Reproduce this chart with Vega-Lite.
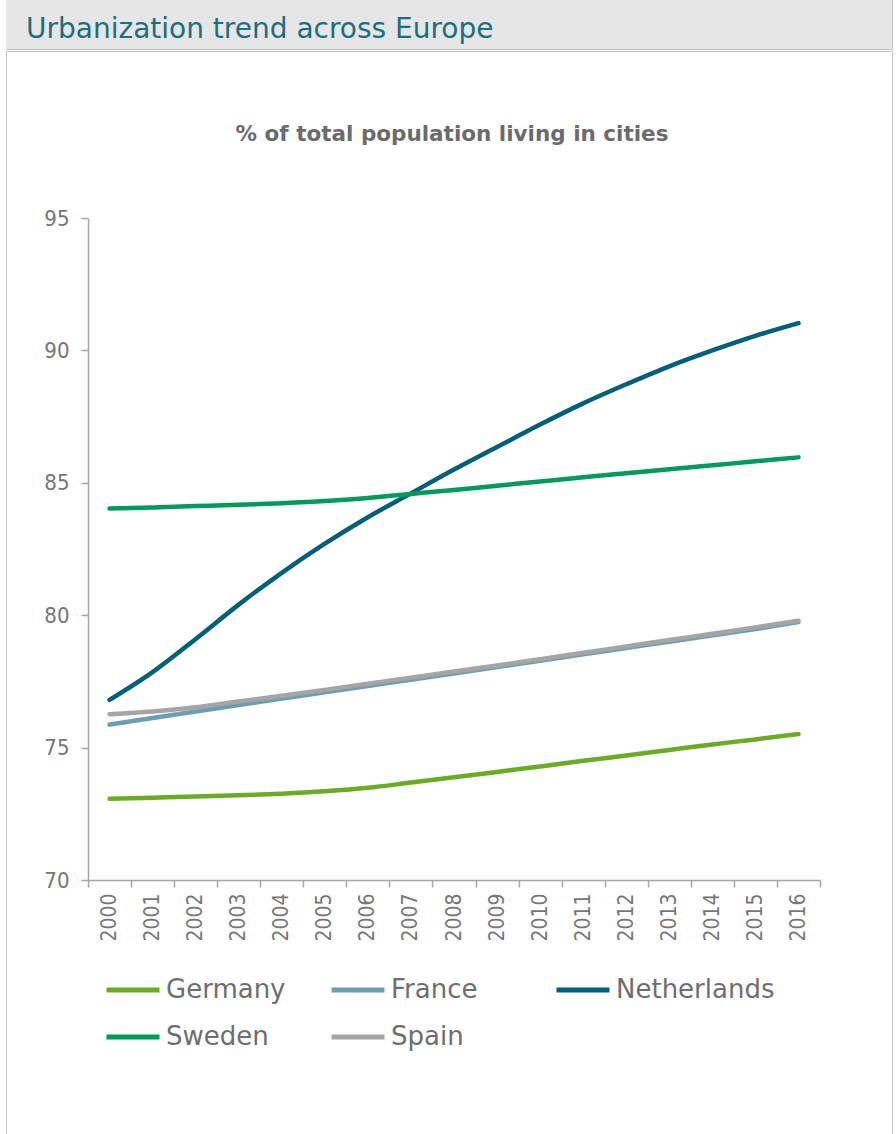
{
  "$schema": "https://vega.github.io/schema/vega-lite/v6.json",
  "padding": {"left": -6, "top": -2, "right": 0, "bottom": 0},
  "background": "white",
  "spacing": 0,
  "config": {
    "font": "DejaVu Sans Condensed, DejaVu Sans",
    "concat": {"spacing": 0}
  },
  "vconcat": [
    {
      "width": 886,
      "height": 50,
      "title": {
        "text": "Urbanization trend across Europe",
        "anchor": "start",
        "frame": "group",
        "orient": "top",
        "offset": -67,
        "baseline": "alphabetic",
        "dx": 20,
        "font": "DejaVu Sans",
        "fontSize": 28,
        "fontWeight": "normal",
        "color": "#1d6e7f"
      },
      "view": {"fill": "#e6e6e6", "stroke": "#c4c4c4"},
      "data": {"values": [{"part": "header"}]},
      "mark": {"type": "rect", "fill": "#e6e6e6"},
      "encoding": {}
    },
    {
      "width": 886,
      "height": 1090,
      "view": {"fill": "white", "stroke": "#c4c4c4"},
      "title": {
        "text": "% of total population living in cities",
        "anchor": "middle",
        "frame": "group",
        "orient": "top",
        "offset": -111,
        "baseline": "alphabetic",
        "dx": 3,
        "font": "DejaVu Sans",
        "fontSize": 21.5,
        "fontWeight": "bold",
        "color": "#6b6b6b"
      },
      "data": {
        "values": [
          {"year": "2000", "country": "Germany", "value": 73.07},
          {"year": "2001", "country": "Germany", "value": 73.11},
          {"year": "2002", "country": "Germany", "value": 73.15},
          {"year": "2003", "country": "Germany", "value": 73.2},
          {"year": "2004", "country": "Germany", "value": 73.26},
          {"year": "2005", "country": "Germany", "value": 73.35},
          {"year": "2006", "country": "Germany", "value": 73.48},
          {"year": "2007", "country": "Germany", "value": 73.68},
          {"year": "2008", "country": "Germany", "value": 73.88},
          {"year": "2009", "country": "Germany", "value": 74.08},
          {"year": "2010", "country": "Germany", "value": 74.29},
          {"year": "2011", "country": "Germany", "value": 74.5},
          {"year": "2012", "country": "Germany", "value": 74.7},
          {"year": "2013", "country": "Germany", "value": 74.91},
          {"year": "2014", "country": "Germany", "value": 75.12},
          {"year": "2015", "country": "Germany", "value": 75.31},
          {"year": "2016", "country": "Germany", "value": 75.51},
          {"year": "2000", "country": "France", "value": 75.87},
          {"year": "2001", "country": "France", "value": 76.12},
          {"year": "2002", "country": "France", "value": 76.36},
          {"year": "2003", "country": "France", "value": 76.61},
          {"year": "2004", "country": "France", "value": 76.85},
          {"year": "2005", "country": "France", "value": 77.09},
          {"year": "2006", "country": "France", "value": 77.33},
          {"year": "2007", "country": "France", "value": 77.56},
          {"year": "2008", "country": "France", "value": 77.8},
          {"year": "2009", "country": "France", "value": 78.04},
          {"year": "2010", "country": "France", "value": 78.28},
          {"year": "2011", "country": "France", "value": 78.52},
          {"year": "2012", "country": "France", "value": 78.76},
          {"year": "2013", "country": "France", "value": 79.0},
          {"year": "2014", "country": "France", "value": 79.24},
          {"year": "2015", "country": "France", "value": 79.48},
          {"year": "2016", "country": "France", "value": 79.74},
          {"year": "2000", "country": "Netherlands", "value": 76.8},
          {"year": "2001", "country": "Netherlands", "value": 77.85},
          {"year": "2002", "country": "Netherlands", "value": 79.1},
          {"year": "2003", "country": "Netherlands", "value": 80.4},
          {"year": "2004", "country": "Netherlands", "value": 81.6},
          {"year": "2005", "country": "Netherlands", "value": 82.7},
          {"year": "2006", "country": "Netherlands", "value": 83.7},
          {"year": "2007", "country": "Netherlands", "value": 84.6},
          {"year": "2008", "country": "Netherlands", "value": 85.5},
          {"year": "2009", "country": "Netherlands", "value": 86.35},
          {"year": "2010", "country": "Netherlands", "value": 87.2},
          {"year": "2011", "country": "Netherlands", "value": 88.0},
          {"year": "2012", "country": "Netherlands", "value": 88.72},
          {"year": "2013", "country": "Netherlands", "value": 89.4},
          {"year": "2014", "country": "Netherlands", "value": 90.0},
          {"year": "2015", "country": "Netherlands", "value": 90.55},
          {"year": "2016", "country": "Netherlands", "value": 91.03},
          {"year": "2000", "country": "Sweden", "value": 84.03},
          {"year": "2001", "country": "Sweden", "value": 84.07},
          {"year": "2002", "country": "Sweden", "value": 84.12},
          {"year": "2003", "country": "Sweden", "value": 84.17},
          {"year": "2004", "country": "Sweden", "value": 84.23},
          {"year": "2005", "country": "Sweden", "value": 84.31},
          {"year": "2006", "country": "Sweden", "value": 84.43},
          {"year": "2007", "country": "Sweden", "value": 84.58},
          {"year": "2008", "country": "Sweden", "value": 84.73},
          {"year": "2009", "country": "Sweden", "value": 84.89},
          {"year": "2010", "country": "Sweden", "value": 85.05},
          {"year": "2011", "country": "Sweden", "value": 85.21},
          {"year": "2012", "country": "Sweden", "value": 85.36},
          {"year": "2013", "country": "Sweden", "value": 85.51},
          {"year": "2014", "country": "Sweden", "value": 85.66},
          {"year": "2015", "country": "Sweden", "value": 85.81},
          {"year": "2016", "country": "Sweden", "value": 85.96},
          {"year": "2000", "country": "Spain", "value": 76.26},
          {"year": "2001", "country": "Spain", "value": 76.36},
          {"year": "2002", "country": "Spain", "value": 76.52},
          {"year": "2003", "country": "Spain", "value": 76.74},
          {"year": "2004", "country": "Spain", "value": 76.96},
          {"year": "2005", "country": "Spain", "value": 77.18},
          {"year": "2006", "country": "Spain", "value": 77.41},
          {"year": "2007", "country": "Spain", "value": 77.64},
          {"year": "2008", "country": "Spain", "value": 77.87},
          {"year": "2009", "country": "Spain", "value": 78.1},
          {"year": "2010", "country": "Spain", "value": 78.34},
          {"year": "2011", "country": "Spain", "value": 78.58},
          {"year": "2012", "country": "Spain", "value": 78.82},
          {"year": "2013", "country": "Spain", "value": 79.06},
          {"year": "2014", "country": "Spain", "value": 79.3},
          {"year": "2015", "country": "Spain", "value": 79.54},
          {"year": "2016", "country": "Spain", "value": 79.79}
        ]
      },
      "mark": {"type": "line", "strokeWidth": 4.5, "strokeCap": "round", "strokeJoin": "round", "interpolate": "monotone"},
      "encoding": {
        "x": {
          "field": "year",
          "type": "ordinal",
          "bandPosition": 0.5,
          "scale": {"type": "band", "paddingInner": 0, "paddingOuter": 0, "range": [82, 814]},
          "axis": {
            "title": null,
            "labelAngle": -90,
            "labelAlign": "right",
            "labelBaseline": "middle",
            "tickBand": "extent",
            "offset": -261,
            "domainColor": "#a6a6a6",
            "domainWidth": 1.5,
            "tickColor": "#a6a6a6",
            "tickWidth": 1.5,
            "tickSize": 7,
            "labelPadding": 6,
            "labelFontSize": 21,
            "labelColor": "#767676"
          }
        },
        "y": {
          "field": "value",
          "type": "quantitative",
          "scale": {"domain": [70, 95], "range": [829, 167], "zero": false, "nice": false},
          "axis": {
            "title": null,
            "values": [70, 75, 80, 85, 90, 95],
            "grid": false,
            "offset": -82,
            "domainColor": "#a6a6a6",
            "domainWidth": 1.5,
            "tickColor": "#a6a6a6",
            "tickWidth": 1.5,
            "tickSize": 7,
            "labelPadding": 12,
            "labelFontSize": 22,
            "labelColor": "#767676"
          }
        },
        "color": {
          "field": "country",
          "type": "nominal",
          "scale": {
            "domain": ["Germany", "France", "Netherlands", "Sweden", "Spain"],
            "range": ["#6aad24", "#6a9fb3", "#005f7a", "#009a5b", "#a5a5a5"]
          },
          "legend": {
            "title": null,
            "orient": "none",
            "legendX": 98,
            "legendY": 962,
            "direction": "horizontal",
            "columns": 3,
            "gridAlign": "all",
            "columnPadding": -4,
            "rowPadding": 5,
            "symbolType": "stroke",
            "symbolSize": 2809,
            "symbolStrokeWidth": 5,
            "labelOffset": 4,
            "labelFont": "DejaVu Sans",
            "labelFontSize": 26,
            "labelColor": "#6e6e6e",
            "labelLimit": 300
          }
        }
      }
    }
  ]
}
